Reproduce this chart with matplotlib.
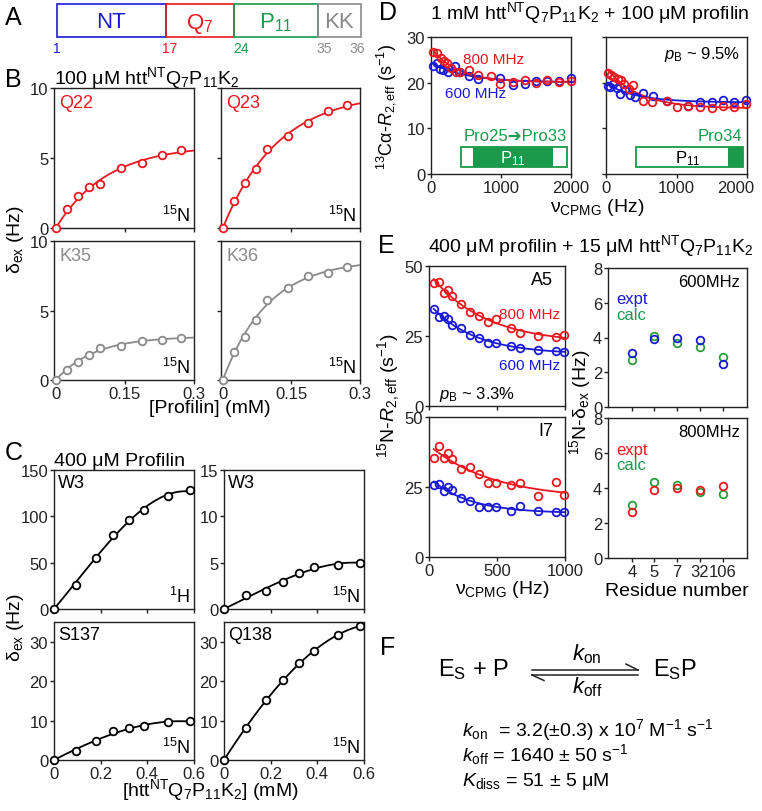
import matplotlib.pyplot as plt
import numpy as np
from matplotlib.patches import Rectangle
from matplotlib.lines import Line2D
from matplotlib.transforms import ScaledTranslation

plt.rcParams['font.family'] = ['Liberation Sans', 'DejaVu Sans']
plt.rcParams['mathtext.fontset'] = 'custom'
plt.rcParams['mathtext.rm'] = 'Liberation Sans'
plt.rcParams['mathtext.it'] = 'Liberation Sans:italic'
plt.rcParams['mathtext.default'] = 'regular'

RED = '#e8191f'
BLUE = '#1a1ad6'
GRAY = '#8a8a8a'
GREEN = '#1a9a4a'
PGREEN = '#2a9d3a'

# --- B: 100 uM httNTQ7P11K2, profilin titration
prof_mM = [0, 0.024, 0.048, 0.072, 0.096, 0.142, 0.187, 0.23, 0.271]
q22 = [0, 1.36, 2.27, 2.91, 3.15, 4.3, 4.63, 5.25, 5.54]
q23 = [0, 1.9, 3.2, 4.2, 5.65, 6.56, 7.5, 8.33, 8.76]
k35 = [0, 0.72, 1.32, 1.83, 2.3, 2.43, 2.84, 2.88, 3.05]
k36 = [0, 2.0, 3.1, 4.35, 5.72, 6.63, 7.45, 7.72, 8.12]

# --- C: 400 uM profilin, htt titration
htt_mM = [0, 0.094, 0.178, 0.254, 0.321, 0.384, 0.49, 0.581]
w3_h = [0, 25.9, 54.7, 79.9, 96.4, 107.2, 121.6, 128]
w3_n = [0, 1.55, 1.98, 2.9, 3.85, 4.53, 4.8, 5.0]
s137 = [0, 2.2, 4.9, 7.27, 8.03, 8.54, 9.55, 9.9]
q138 = [0, 8.07, 15.1, 20.2, 24.5, 27.6, 31.7, 34.0]

# --- D: 13Ca CPMG
dl_x800 = [33, 90, 137, 185, 223, 280, 355, 412, 545, 673, 863, 991, 1171, 1337, 1493, 1659, 1834, 2000]
dl_r800 = [26.8, 26.4, 25.5, 24.8, 24.2, 23.3, 22.4, 22.3, 22.8, 21.7, 21.5, 19.7, 20.1, 20.6, 19.9, 20.5, 20.2, 20.4]
dl_x600 = [33, 81, 128, 175, 247, 341, 403, 545, 673, 991, 1171, 1337, 1493, 1659, 1834, 2000]
dl_r600 = [23.6, 24.3, 23.1, 22.8, 22.4, 23.6, 22.3, 21.4, 20.7, 21.0, 19.4, 19.7, 20.3, 20.4, 20.3, 21.0]
dr_x800 = [30, 75, 120, 165, 210, 260, 330, 390, 530, 650, 870, 1000, 1160, 1330, 1500, 1660, 1820, 1990]
dr_r800 = [22.2, 21.6, 21.2, 20.9, 20.5, 19.8, 18.7, 19.5, 16.0, 15.8, 15.9, 14.6, 15.0, 14.6, 14.5, 14.8, 14.6, 15.3]
dr_x600 = [25, 60, 105, 150, 200, 270, 340, 410, 530, 670, 860, 1160, 1330, 1500, 1660, 1820, 1990]
dr_r600 = [19.3, 19.1, 19.6, 18.8, 17.6, 18.3, 17.3, 16.9, 17.8, 17.0, 15.9, 15.0, 15.7, 15.8, 16.2, 15.8, 16.1]

# --- E: 15N CPMG
e_x = [35, 75, 108, 140, 168, 235, 300, 369, 435, 496, 600, 668, 800, 934, 993]
a5_800 = [44.1, 44.2, 40.2, 41.5, 39.4, 36.4, 33.4, 32.1, 30.0, 30.9, 27.8, 26.1, 25.1, 24.5, 25.5]
a5_600 = [34.7, 31.7, 32.1, 30.9, 29.1, 27.8, 25.5, 24.3, 22.5, 22.4, 21.3, 20.7, 20.1, 19.7, 19.4]
i7_800 = [35.2, 39.7, 35.2, 37.2, 35.0, 31.6, 32.0, 29.6, 26.3, 26.3, 25.7, 26.3, 21.9, 26.7, 22.1]
i7_600 = [25.7, 26.1, 23.7, 24.9, 24.0, 20.9, 20.1, 17.9, 17.7, 17.9, 16.3, 18.3, 16.5, 16.1, 16.1]

residues = ['4', '5', '7', '32', '106']
expt600 = [3.12, 3.94, 3.96, 3.85, 2.5]
calc600 = [2.69, 4.1, 3.71, 3.46, 2.88]
expt800 = [2.61, 3.89, 3.98, 3.90, 4.10]
calc800 = [3.05, 4.32, 4.19, 3.79, 3.66]

W, H = 762, 812
fig = plt.figure(figsize=(W / 100, H / 100), dpi=100)


def add_ax(x0, y0, x1, y1):
    ax = fig.add_axes([x0 / W, 1 - y1 / H, (x1 - x0) / W, (y1 - y0) / H])
    for s in ax.spines.values():
        s.set_linewidth(1.0)
        s.set_color('#222222')
    ax.tick_params(direction='out', length=3, width=1, pad=1.2, labelsize=12, colors='#222222')
    return ax


def ftext(x, y, s, **kw):
    fig.text(x / W, 1 - y / H, s, **kw)


def poly_fit(x, y, xs):
    x = np.asarray(x, float)
    A = np.vstack([x, x ** 2, x ** 3]).T
    c = np.linalg.lstsq(A, np.asarray(y, float), rcond=None)[0]
    return c[0] * xs + c[1] * xs ** 2 + c[2] * xs ** 3


def sat_fit(x, y, xs):
    # y = A * (1 - exp(-x / t)), best t on a grid
    x = np.asarray(x, float)
    y = np.asarray(y, float)
    best = None
    for t in np.linspace(0.02, 1.0, 400):
        b = 1 - np.exp(-x / t)
        a = (b @ y) / (b @ b)
        r = np.sum((a * b - y) ** 2)
        if best is None or r < best[0]:
            best = (r, t, a)
    _, t, a = best
    return a * (1 - np.exp(-xs / t))


def decay_fit(x, y, xs):
    x = np.asarray(x, float)
    y = np.asarray(y, float)
    best = None
    for tau in np.linspace(40, 1500, 400):
        A = np.vstack([np.ones_like(x), np.exp(-x / tau)]).T
        c = np.linalg.lstsq(A, y, rcond=None)[0]
        r = np.sum((A @ c - y) ** 2)
        if best is None or r < best[0]:
            best = (r, tau, c)
    _, tau, c = best
    return c[0] + c[1] * np.exp(-xs / tau)


def circles(ax, x, y, color, fill='white'):
    ax.plot(x, y, 'o', ms=5.5, mfc=fill, mec=color, mew=1.3, clip_on=False, zorder=4)


# ---------------- Panel B
b_boxes = [(54, 89, 194, 229), (221, 89, 360, 229), (54, 242, 194, 381), (221, 242, 360, 381)]
b_sets = [(q22, RED, 'Q22'), (q23, RED, 'Q23'), (k35, GRAY, 'K35'), (k36, GRAY, 'K36')]
for i, (box, (vals, col, name)) in enumerate(zip(b_boxes, b_sets)):
    ax = add_ax(*box)
    xs = np.linspace(0, 0.3, 200)
    ax.plot(xs, sat_fit(prof_mM, vals, xs), color=col, lw=1.3, zorder=3)
    circles(ax, prof_mM, vals, col)
    ax.set_xlim(-0.004, 0.3)
    ax.set_ylim(0, 10)
    ax.set_xticks([0, 0.15, 0.3])
    ax.set_yticks([0, 5, 10])
    ax.set_xticklabels(['0', '0.15', '0.3'] if i >= 2 else [])
    if i % 2 == 1:
        ax.set_yticklabels([])
    ax.text(0.036, 0.862, name, color=col, fontsize=13, transform=ax.transAxes, va='baseline')
    ax.text(0.971, 0.052, '$^{15}$N', fontsize=13, transform=ax.transAxes, va='baseline', ha='right')

# ---------------- Panel C
c_boxes = [(54, 471, 194, 610), (224, 471, 364, 610), (54, 623, 194, 761), (224, 623, 364, 761)]
c_sets = [(w3_h, 'W3', '$^{1}$H', 150, [0, 50, 100, 150]),
          (w3_n, 'W3', '$^{15}$N', 15, [0, 5, 10, 15]),
          (s137, 'S137', '$^{15}$N', 35, [0, 10, 20, 30]),
          (q138, 'Q138', '$^{15}$N', 35, [0, 10, 20, 30])]
for i, (box, (vals, name, nuc, ymax, yt)) in enumerate(zip(c_boxes, c_sets)):
    ax = add_ax(*box)
    xs = np.linspace(0, 0.6, 200)
    ax.plot(xs, poly_fit(htt_mM, vals, xs), color='black', lw=1.3, zorder=3)
    circles(ax, htt_mM, vals, 'black')
    ax.set_xlim(0, 0.6)
    ax.set_ylim(0, ymax)
    ax.set_xticks([0, 0.2, 0.4, 0.6])
    ax.set_yticks(yt)
    ax.set_xticklabels(['0', '0.2', '0.4', '0.6'] if i >= 2 else [])
    ax.text(0.03, 0.875, name, fontsize=13, transform=ax.transAxes, va='baseline')
    ax.text(0.971, 0.048, nuc, fontsize=13, transform=ax.transAxes, va='baseline', ha='right')

# ---------------- Panel D
d_boxes = [(431, 38, 571, 175), (606, 38, 747, 175)]
d_sets = [(dl_x600, dl_r600, dl_x800, dl_r800), (dr_x600, dr_r600, dr_x800, dr_r800)]
for i, (box, (x6, r6, x8, r8)) in enumerate(zip(d_boxes, d_sets)):
    ax = add_ax(*box)
    xs6 = np.linspace(min(x6), 2000, 200)
    xs8 = np.linspace(min(x8), 2000, 200)
    ax.plot(xs6, decay_fit(x6, r6, xs6), color=BLUE, lw=1.3, zorder=2)
    ax.plot(xs8, decay_fit(x8, r8, xs8), color=RED, lw=1.3, zorder=3)
    circles(ax, x6, r6, BLUE, fill='none')
    circles(ax, x8, r8, RED, fill='none')
    ax.set_xlim(0, 2000)
    ax.set_ylim(0, 30)
    ax.set_xticks([0, 1000, 2000])
    ax.set_yticks([0, 10, 20, 30])
    if i == 0:
        ax.add_patch(Rectangle((0.212, 0.051), 0.757, 0.146, transform=ax.transAxes,
                               fill=False, ec=GREEN, lw=1.3))
        ax.add_patch(Rectangle((0.30, 0.051), 0.571, 0.146, transform=ax.transAxes,
                               fc=GREEN, ec='none'))
        ax.text(0.586, 0.085, 'P$_{11}$', color='white', fontsize=12, ha='center',
                va='baseline', transform=ax.transAxes)
        ax.text(0.969, 0.248, 'Pro25\u2794Pro33', color=GREEN, fontsize=12, ha='right',
                va='baseline', transform=ax.transAxes)
        ax.text(0.231, 0.808, '800 MHz', color=RED, fontsize=11, va='baseline',
                transform=ax.transAxes)
        ax.text(0.10, 0.56, '600 MHz', color=BLUE, fontsize=11, va='baseline',
                transform=ax.transAxes)
    else:
        ax.set_yticklabels([])
        # keep the last tick label inside the figure, as in the reference
        last = ax.get_xticklabels()[-1]
        last.set_transform(last.get_transform() + ScaledTranslation(-11 / 100, 0, fig.dpi_scale_trans))
        ax.add_patch(Rectangle((0.213, 0.051), 0.759, 0.146, transform=ax.transAxes,
                               fill=False, ec=GREEN, lw=1.3))
        ax.add_patch(Rectangle((0.865, 0.051), 0.107, 0.146, transform=ax.transAxes,
                               fc=GREEN, ec='none'))
        ax.text(0.58, 0.085, 'P$_{11}$', color='black', fontsize=12, ha='center',
                va='baseline', transform=ax.transAxes)
        ax.text(0.969, 0.248, 'Pro34', color=GREEN, fontsize=12, ha='right',
                va='baseline', transform=ax.transAxes)
        ax.text(0.95, 0.85, '$\\mathit{p}_{B}$ ~ 9.5%', fontsize=12, ha='right',
                va='baseline', transform=ax.transAxes)

# ---------------- Panel E (left)
e_boxes = [(429, 267, 565, 407), (429, 418, 565, 558)]
e_sets = [(a5_600, a5_800, 'A5'), (i7_600, i7_800, 'I7')]
for i, (box, (r6, r8, name)) in enumerate(zip(e_boxes, e_sets)):
    ax = add_ax(*box)
    xs = np.linspace(min(e_x), 1000, 200)
    ax.plot(xs, decay_fit(e_x, r6, xs), color=BLUE, lw=1.3, zorder=2)
    ax.plot(xs, decay_fit(e_x, r8, xs), color=RED, lw=1.3, zorder=3)
    circles(ax, e_x, r6, BLUE, fill='none')
    circles(ax, e_x, r8, RED, fill='none')
    ax.set_xlim(0, 1000)
    ax.set_ylim(0, 50)
    ax.set_xticks([0, 500, 1000])
    ax.set_yticks([0, 25, 50])
    if i == 0:
        ax.set_xticklabels([])
        ax.text(0.963, 0.626, '800 MHz', color=RED, fontsize=11, ha='right', va='baseline',
                transform=ax.transAxes)
        ax.text(0.963, 0.264, '600 MHz', color=BLUE, fontsize=11, ha='right', va='baseline',
                transform=ax.transAxes)
        ax.text(0.076, 0.055, '$\\mathit{p}_{B}$ ~ 3.3%', fontsize=12, va='baseline',
                transform=ax.transAxes)
    ax.text(0.915, 0.868, name, fontsize=13, ha='right', va='baseline', transform=ax.transAxes)

# ---------------- Panel E (right)
er_boxes = [(608, 269, 747, 408), (608, 419, 747, 559)]
er_sets = [(expt600, calc600, BLUE, '600MHz'), (expt800, calc800, RED, '800MHz')]
pos = np.arange(1, len(residues) + 1)
for i, (box, (ex, ca, col, lab)) in enumerate(zip(er_boxes, er_sets)):
    ax = add_ax(*box)
    circles(ax, pos, ca, PGREEN, fill='none')
    circles(ax, pos, ex, col, fill='none')
    ax.set_xlim(-0.05, 6.08)
    ax.set_ylim(0, 8)
    ax.set_xticks(pos)
    ax.set_yticks([0, 2, 4, 6, 8])
    ax.set_xticklabels(residues if i == 1 else [])
    ax.text(0.95, 0.868, lab, fontsize=12, ha='right', va='baseline', transform=ax.transAxes)
    ax.text(0.058, 0.745, 'expt', color=col, fontsize=12, va='baseline', transform=ax.transAxes)
    ax.text(0.058, 0.636, 'calc', color=GREEN, fontsize=12, va='baseline', transform=ax.transAxes)

# ---------------- free text: panel letters, titles, axis labels
for letter, x, y in [('A', 13, 25), ('B', 13, 87), ('C', 14, 460), ('D', 388, 20),
                     ('E', 386, 253), ('F', 388, 655)]:
    ftext(x, y, letter, fontsize=18, ha='center', va='baseline')

ftext(54, 84, '100 \u03bcM htt$^{NT}$Q$_{7}$P$_{11}$K$_{2}$', fontsize=14, va='baseline')
ftext(54, 466, '400 \u03bcM Profilin', fontsize=14, va='baseline')
ftext(430, 19, '1 mM htt$^{NT}$Q$_{7}$P$_{11}$K$_{2}$ + 100 \u03bcM profilin', fontsize=14, va='baseline')
ftext(428, 252, '400 \u03bcM profilin + 15 \u03bcM htt$^{NT}$Q$_{7}$P$_{11}$K$_{2}$', fontsize=14, va='baseline')

ftext(210, 413, '[Profilin] (mM)', fontsize=14, ha='center', va='baseline')
ftext(210, 796, '[htt$^{NT}$Q$_{7}$P$_{11}$K$_{2}$] (mM)', fontsize=14, ha='center', va='baseline')
ftext(597, 212, '\u03bd$_{CPMG}$ (Hz)', fontsize=14, ha='center', va='baseline')
ftext(502, 594, '\u03bd$_{CPMG}$ (Hz)', fontsize=14, ha='center', va='baseline')
ftext(677, 596, 'Residue number', fontsize=14, ha='center', va='baseline')

ftext(15, 240, '\u03b4$_{ex}$ (Hz)', fontsize=14, rotation=90, ha='center', va='center')
ftext(16, 628, '\u03b4$_{ex}$ (Hz)', fontsize=14, rotation=90, ha='center', va='center')
ftext(386, 107, '$^{13}$C\u03b1-$\\mathit{R}_{2,eff}$ (s$^{-1}$)', fontsize=13, rotation=90,
      ha='center', va='center')
ftext(389, 395, '$^{15}$N-$\\mathit{R}_{2,eff}$ (s$^{-1}$)', fontsize=14, rotation=90,
      ha='center', va='center')
ftext(580, 402, '$^{15}$N-\u03b4$_{ex}$ (Hz)', fontsize=14, rotation=90, ha='center', va='center')

# ---------------- Panel A: construct schematic
seg_labels = ['NT', 'Q$_{7}$', 'P$_{11}$', 'KK']
seg_colors = [BLUE, RED, GREEN, GRAY]
seg_edges = [57, 166, 234, 318, 361]
res_bounds = ['1', '17', '24', '35', '36']
res_pos = [57, 170, 241, 324, 357]
for lab, col, x0, x1 in zip(seg_labels, seg_colors, seg_edges[:-1], seg_edges[1:]):
    fig.add_artist(Rectangle((x0 / W, 1 - 38 / H), (x1 - x0) / W, 33 / H,
                             transform=fig.transFigure, fill=False, ec=col, lw=1.2))
    ftext((x0 + x1) / 2, 28.5, lab, color=col, fontsize=16, ha='center', va='baseline')
for lab, col, x in zip(res_bounds, [BLUE, RED, GREEN, GRAY, GRAY], res_pos):
    ftext(x, 53, lab, color=col, fontsize=10, ha='center', va='baseline')

# ---------------- Panel F: binding scheme
ftext(438, 676, 'E$_{S}$ + P', fontsize=17, va='baseline')
ftext(653, 676, 'E$_{S}$P', fontsize=17, va='baseline')
ftext(587, 660, '$\\mathit{k}_{on}$', fontsize=16, ha='center', va='baseline')
ftext(587, 693, '$\\mathit{k}_{off}$', fontsize=16, ha='center', va='baseline')
for xs, ys in [([532, 638], [671, 671]), ([626, 638], [665, 671]),
               ([532, 638], [676, 676]), ([532, 544], [676, 681.5])]:
    fig.add_artist(Line2D([x / W for x in xs], [1 - y / H for y in ys],
                          transform=fig.transFigure, color='#222222', lw=1.1))
ftext(462, 736, '$\\mathit{k}_{on}$  = 3.2(\u00b10.3) x 10$^{7}$ M$^{-1}$ s$^{-1}$', fontsize=14, va='baseline')
ftext(462, 761, '$\\mathit{k}_{off}$ = 1640 \u00b1 50 s$^{-1}$', fontsize=14, va='baseline')
ftext(462, 786, '$\\mathit{K}_{diss}$ = 51 \u00b1 5 \u03bcM', fontsize=14, va='baseline')

fig.savefig('out.png', dpi=100)
